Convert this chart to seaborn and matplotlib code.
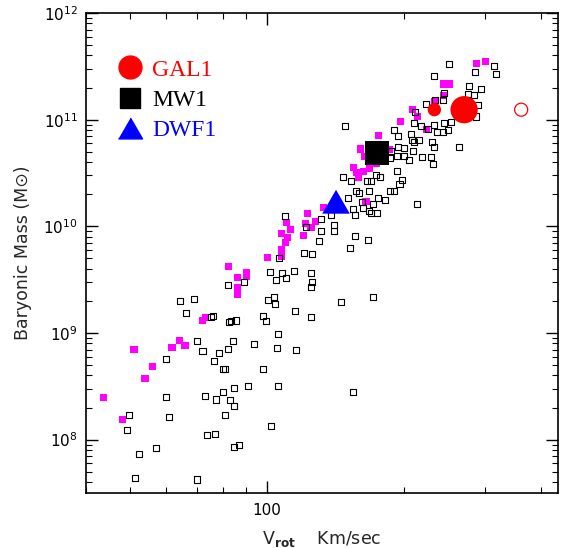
import matplotlib
matplotlib.use("Agg")
import matplotlib.pyplot as plt
import seaborn as sns
from matplotlib.lines import Line2D
from matplotlib.markers import MarkerStyle
from matplotlib.ticker import LogLocator, NullFormatter, FixedLocator, FixedFormatter

sns.set_style("ticks")
plt.rcParams['font.family'] = ['DejaVu Sans']
plt.rcParams['mathtext.fontset'] = 'dejavusans'

# ---------------- data ----------------
# open black squares: galaxy sample
disk_vrot = [106.1, 120.6, 125.4, 101.5, 107.9, 114.6, 124.8, 104.7, 110.1, 125.4,
             125.0, 89.0, 81.9, 64.3, 69.0, 100.5, 103.3, 104.0, 114.9, 66.4,
             75.3, 76.1, 82.5, 83.2, 85.2, 97.7, 99.3, 125.0, 105.7, 70.0,
             84.1, 72.1, 81.9, 78.2, 93.6, 104.9, 115.5, 60.0, 76.5, 79.8,
             80.6, 97.8, 60.0, 73.1, 77.3, 80.1, 84.6, 82.7, 84.4, 90.8,
             105.6, 49.8, 61.0, 49.2, 80.6, 101.9, 73.6, 76.9, 57.1, 52.4,
             84.6, 86.8, 51.2, 70.0,
             145.0, 170.5, 154.3,
             109.4, 121.7, 131.2, 131.2, 129.9, 152.2, 156.1, 166.4, 137.8, 140.4,
             140.4, 148.4, 146.9, 153.1, 165.4, 169.3, 173.6, 177.2, 156.6, 159.3,
             167.3, 150.4, 161.5, 175.4, 181.1, 170.7, 154.5, 162.6, 167.3, 156.1,
             169.0, 174.5, 192.5, 198.0, 195.2, 189.6, 186.1, 213.6, 187.0, 186.1,
             193.1, 199.7, 204.8, 193.5, 200.0, 208.7, 190.1, 193.3, 206.4, 207.5,
             210.1, 215.5, 210.4, 219.2, 228.4, 231.7, 230.1, 232.8, 264.2,
             250.8, 232.5, 286.5, 314.5, 318.6, 277.5, 294.2, 276.5, 284.2, 289.7,
             287.5, 244.9, 242.9, 234.0, 222.9, 210.6, 217.9, 224.9, 232.9, 244.5,
             253.3, 236.0, 242.9, 249.9]
disk_mass = [5.09e9, 5.63e9, 5.55e9, 3.71e9, 3.66e9, 3.84e9, 3.68e9, 3.15e9, 3.28e9, 3.01e9,
             2.70e9, 2.99e9, 2.84e9, 2.01e9, 2.09e9, 2.03e9, 2.19e9, 1.87e9, 1.61e9, 1.55e9,
             1.42e9, 1.43e9, 1.27e9, 1.30e9, 1.31e9, 1.45e9, 1.29e9, 1.42e9, 9.81e8, 8.36e8,
             8.36e8, 6.84e8, 7.04e8, 6.45e8, 7.84e8, 7.25e8, 6.99e8, 5.67e8, 5.51e8, 4.61e8,
             4.64e8, 4.57e8, 2.52e8, 2.59e8, 2.38e8, 2.81e8, 3.08e8, 2.34e8, 2.06e8, 3.19e8,
             3.19e8, 1.71e8, 1.64e8, 1.23e8, 1.71e8, 1.33e8, 1.11e8, 1.14e8, 8.38e7, 7.36e7,
             8.62e7, 9.00e7, 4.39e7, 4.23e7,
             1.96e9, 2.18e9, 2.82e8,
             1.25e10, 9.94e9, 1.16e10, 9.02e9, 7.35e9, 6.25e9, 8.06e9, 7.51e9, 1.28e10, 1.02e10,
             9.02e9, 8.78e10, 2.92e10, 2.68e10, 2.64e10, 2.66e10, 3.05e10, 2.90e10, 2.16e10, 2.04e10,
             2.16e10, 1.85e10, 1.69e10, 1.85e10, 1.75e10, 1.63e10, 1.46e10, 1.47e10, 1.40e10, 1.27e10,
             1.32e10, 1.34e10, 3.28e10, 2.72e10, 2.48e10, 2.13e10, 2.16e10, 1.61e10, 5.05e10, 4.40e10,
             4.60e10, 4.53e10, 4.17e10, 5.52e10, 5.46e10, 5.07e10, 8.01e10, 6.97e10, 7.35e10, 6.43e10,
             6.15e10, 6.40e10, 9.27e10, 4.43e10, 4.45e10, 3.84e10, 6.22e10, 5.55e10, 5.55e10,
             3.35e11, 2.58e11, 2.82e11, 3.19e11, 2.70e11, 2.05e11, 1.92e11, 1.74e11, 1.70e11, 1.38e11,
             1.07e11, 1.76e11, 1.52e11, 1.52e11, 1.40e11, 1.19e11, 8.75e10, 8.20e10, 8.98e10, 9.37e10,
             9.52e10, 7.72e10, 7.72e10, 7.97e10]

# filled magenta squares: second sample
mag_vrot = [100.0, 107.3, 107.3, 82.1, 85.9, 89.9, 89.9, 85.9, 85.9, 73.1,
            72.0, 64.1, 61.8, 66.0, 51.0, 55.9, 53.9, 43.8, 48.0, 122.4,
            110.1, 112.3, 107.5, 110.8, 109.7, 121.2, 124.8, 127.9, 120.0, 132.8,
            164.8, 154.6, 157.4, 158.6, 162.6, 167.5, 160.2, 163.2, 175.4, 173.3,
            185.6, 196.0, 287.9, 301.4, 243.3, 251.7, 244.2, 232.8, 208.7, 214.1,
            223.3]
mag_mass = [5.09e9, 6.05e9, 5.26e9, 4.16e9, 3.28e9, 3.72e9, 3.42e9, 2.64e9, 2.29e9, 1.39e9,
            1.30e9, 8.49e8, 7.25e8, 7.57e8, 6.96e8, 4.81e8, 3.72e8, 2.46e8, 1.53e8, 1.32e10,
            1.09e10, 9.27e9, 8.51e9, 7.84e9, 7.07e9, 1.07e10, 9.72e9, 1.12e10, 8.13e9, 1.49e10,
            1.70e10, 3.55e10, 3.22e10, 2.89e10, 3.28e10, 3.45e10, 5.31e10, 4.53e10, 7.05e10, 3.87e10,
            5.23e10, 9.54e10, 3.33e11, 3.53e11, 2.16e11, 2.16e11, 1.70e11, 1.48e11, 1.24e11, 1.08e11,
            8.06e10]

# simulated galaxies
gal1_vrot = [270.6]
gal1_mass = [1.24e11]
gal1_small_vrot = [232.8]
gal1_small_mass = [1.24e11]
gal1_open_vrot = [361.1]
gal1_open_mass = [1.24e11]
mw1_vrot = [174.2]
mw1_mass = [4.91e10]
dwf1_vrot = [141.6]
dwf1_mass = [1.70e10]

legend_labels = ["GAL1", "MW1", "DWF1"]
legend_colors = ["red", "black", "blue"]

x_ticks = [100]
x_ticklabels = ["100"]

# ---------------- figure ----------------
fig = plt.figure(figsize=(5.62, 5.48), dpi=100)
ax = fig.add_axes([0.1530, 0.1004, 0.8399, 0.8759])
ax.set_xscale('log')
ax.set_yscale('log')

tri = MarkerStyle([(-1, -0.866), (1, -0.866), (0, 0.866)])

sns.scatterplot(x=mag_vrot, y=mag_mass, ax=ax, marker='s', s=26,
                color='#ff00ff', edgecolor='none', linewidth=0, zorder=2)
sns.scatterplot(x=disk_vrot, y=disk_mass, ax=ax, marker='s', s=19,
                facecolor='none', edgecolor='black', linewidth=0.8, zorder=3)
sns.scatterplot(x=mw1_vrot, y=mw1_mass, ax=ax, marker='s', s=298,
                color='black', edgecolor='none', linewidth=0, zorder=4)
sns.scatterplot(x=dwf1_vrot, y=dwf1_mass, ax=ax, marker=tri, s=395,
                color='blue', edgecolor='none', linewidth=0, zorder=4)
sns.scatterplot(x=gal1_vrot, y=gal1_mass, ax=ax, marker='o', s=386,
                color='red', edgecolor='none', linewidth=0, zorder=4)
sns.scatterplot(x=gal1_small_vrot, y=gal1_small_mass, ax=ax, marker='o', s=92,
                color='red', edgecolor='none', linewidth=0, zorder=4)
sns.scatterplot(x=gal1_open_vrot, y=gal1_open_mass, ax=ax, marker='o', s=88,
                facecolor='none', edgecolor='red', linewidth=0.9, zorder=4)

ax.set_xlim(40, 435)
ax.set_ylim(10 ** 7.5, 1e12)

ax.xaxis.set_major_locator(FixedLocator(x_ticks))
ax.xaxis.set_major_formatter(FixedFormatter(x_ticklabels))
ax.xaxis.set_minor_locator(LogLocator(base=10, subs=range(2, 10), numticks=20))
ax.xaxis.set_minor_formatter(NullFormatter())
ax.yaxis.set_major_locator(LogLocator(base=10, numticks=20))
ax.yaxis.set_minor_locator(LogLocator(base=10, subs=range(2, 10), numticks=20))
ax.yaxis.set_minor_formatter(NullFormatter())

ax.tick_params(which='both', direction='in', top=True, right=True, colors='black')
ax.tick_params(which='major', length=8.3, width=1.0, labelsize=11)
ax.tick_params(axis='x', which='major', pad=7)
ax.tick_params(axis='y', which='major', pad=6)
ax.tick_params(which='minor', length=4, width=0.8)
for sp in ax.spines.values():
    sp.set_linewidth(1.2)
    sp.set_color('black')

ax.set_xlabel(r"V$_{\mathbf{rot}}$    Km/sec", fontsize=12.5, labelpad=8)
ax.set_ylabel("Baryonic Mass (M\u2299)", fontsize=12.5, labelpad=8)

handles = [
    Line2D([], [], marker='o', color='red', markersize=16.5, linestyle='None'),
    Line2D([], [], marker='s', color='black', markersize=14.4, linestyle='None'),
    Line2D([], [], marker=tri, color='blue', markersize=17.3, linestyle='None'),
]
leg = ax.legend(handles, legend_labels, loc='upper left', bbox_to_anchor=(0.068, 0.904),
                frameon=False, borderaxespad=0, borderpad=0, handlelength=1.0,
                handletextpad=0.45, labelspacing=0.37,
                prop={'family': 'Liberation Serif', 'size': 17},
                labelcolor=legend_colors)

fig.savefig("out.png", dpi=100)
